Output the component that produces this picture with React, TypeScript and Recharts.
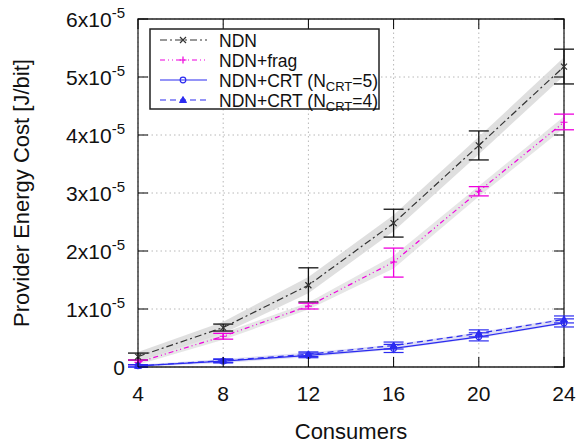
import { Area, ComposedChart, CartesianGrid, ErrorBar, Label, Line, ReferenceArea, XAxis, YAxis } from "recharts";

// values in units of 1e-5 J/bit
const consumers = [4, 8, 12, 16, 20, 24];
const xTicks = [4, 8, 12, 16, 20, 24];
const yTicks = [0, 1, 2, 3, 4, 5, 6];

const ndn = [0.18, 0.68, 1.41, 2.48, 3.82, 5.18];
const ndnLow = [0.12, 0.62, 1.12, 2.24, 3.57, 4.88];
const ndnHigh = [0.24, 0.74, 1.71, 2.72, 4.07, 5.48];
const ndnBandLow = [0.1, 0.58, 1.27, 2.34, 3.67, 5.02];
const ndnBandHigh = [0.26, 0.78, 1.55, 2.62, 3.97, 5.34];

const frag = [0.08, 0.53, 1.05, 1.81, 3.03, 4.22];
const fragLow = [0.04, 0.48, 1.0, 1.55, 2.95, 4.09];
const fragHigh = [0.12, 0.58, 1.1, 2.05, 3.11, 4.36];
const fragBandLow = [0.04, 0.47, 0.99, 1.7, 2.94, 4.12];
const fragBandHigh = [0.12, 0.59, 1.11, 1.92, 3.12, 4.32];

const crt5 = [0.02, 0.1, 0.2, 0.32, 0.52, 0.76];
const crt5Low = [0.0, 0.07, 0.16, 0.25, 0.45, 0.69];
const crt5High = [0.04, 0.13, 0.24, 0.39, 0.59, 0.83];
const crt4 = [0.02, 0.11, 0.22, 0.37, 0.58, 0.82];
const crt4Low = [0.0, 0.08, 0.18, 0.31, 0.52, 0.76];
const crt4High = [0.04, 0.14, 0.26, 0.43, 0.64, 0.88];
const crtBandLow = [0.0, 0.07, 0.17, 0.3, 0.5, 0.74];
const crtBandHigh = [0.04, 0.14, 0.25, 0.39, 0.6, 0.84];

const data = consumers.map((c, i) => ({
  c,
  ndn: ndn[i],
  ndnErr: [ndn[i] - ndnLow[i], ndnHigh[i] - ndn[i]],
  ndnBand: [ndnBandLow[i], ndnBandHigh[i]],
  frag: frag[i],
  fragErr: [frag[i] - fragLow[i], fragHigh[i] - frag[i]],
  fragBand: [fragBandLow[i], fragBandHigh[i]],
  crt5: crt5[i],
  crt5Err: [crt5[i] - crt5Low[i], crt5High[i] - crt5[i]],
  crt4: crt4[i],
  crt4Err: [crt4[i] - crt4Low[i], crt4High[i] - crt4[i]],
  crtBand: [crtBandLow[i], crtBandHigh[i]],
}));

const FONT = "'Liberation Sans', Arial, sans-serif";
const LEFT = 138, RIGHT = 564, TOP = 19, BOTTOM = 367;
const NDN_C = "#333333", FRAG_C = "#ee00dd", CRT_C = "#2b2bf0";

const XMark = ({ cx, cy, color }: any) => (
  <path d={`M${cx - 3},${cy - 3}L${cx + 3},${cy + 3}M${cx - 3},${cy + 3}L${cx + 3},${cy - 3}`} stroke={color} strokeWidth={1.2} />
);
const PlusMark = ({ cx, cy, color }: any) => (
  <path d={`M${cx - 3.5},${cy}L${cx + 3.5},${cy}M${cx},${cy - 3.5}L${cx},${cy + 3.5}`} stroke={color} strokeWidth={1.2} />
);
const CircleMark = ({ cx, cy, color }: any) => <circle cx={cx} cy={cy} r={2.8} fill="none" stroke={color} strokeWidth={1.2} />;
const TriMark = ({ cx, cy, color }: any) => (
  <path d={`M${cx},${cy - 3.5}L${cx + 3.5},${cy + 2.5}L${cx - 3.5},${cy + 2.5}Z`} fill={color} stroke={color} strokeWidth={1} />
);

function XTick({ x, payload }: any) {
  return (
    <g>
      <line x1={x} x2={x} y1={BOTTOM} y2={BOTTOM - 10} stroke="#000" />
      <line x1={x} x2={x} y1={TOP} y2={TOP + 10} stroke="#000" />
      <text x={x} y={401} textAnchor="middle" fontSize={21} fontFamily={FONT} fill="#111">{payload.value}</text>
    </g>
  );
}

function YTick({ y, payload }: any) {
  const v = payload.value;
  return (
    <g>
      <line x1={LEFT} x2={LEFT + 10} y1={y} y2={y} stroke="#000" />
      <line x1={RIGHT} x2={RIGHT - 10} y1={y} y2={y} stroke="#000" />
      <text x={125} y={y + 7.5} textAnchor="end" fontSize={21} fontFamily={FONT} fill="#111">
        {v === 0 ? "0" : (
          <>
            {`${v}x10`}
            <tspan fontSize={15} dy={-9}>-5</tspan>
          </>
        )}
      </text>
    </g>
  );
}

const legendItems = [
  { label: "NDN", color: NDN_C, dash: "7 3 2 3", Mark: XMark },
  { label: "NDN+frag", color: FRAG_C, dash: "5 3 1 3 1 3", Mark: PlusMark },
  { label: "crt5", color: CRT_C, dash: undefined, Mark: CircleMark },
  { label: "crt4", color: CRT_C, dash: "6 4", Mark: TriMark },
];

function LegendBox() {
  return (
    <g>
      <rect x={150} y={29} width={229} height={80} fill="#fff" stroke="#222" strokeWidth={1.5} />
      {legendItems.map((it, i) => {
        const y = 40 + i * 20;
        return (
          <g key={it.label}>
            <line x1={160} x2={207} y1={y} y2={y} stroke={it.color} strokeDasharray={it.dash} strokeWidth={1.2} />
            <it.Mark cx={183} cy={y} color={it.color} />
            <text x={219} y={y + 6.5} fontSize={17.5} fontFamily={FONT} fill="#111">
              {it.label === "crt5" || it.label === "crt4" ? (
                <>
                  {"NDN+CRT (N"}
                  <tspan fontSize={13} dy={4}>CRT</tspan>
                  <tspan dy={-4}>{it.label === "crt5" ? "=5)" : "=4)"}</tspan>
                </>
              ) : it.label}
            </text>
          </g>
        );
      })}
    </g>
  );
}

export default function App() {
  return (
    <div style={{ position: "absolute", left: 0, top: 0, width: 582, height: 446, background: "#fff" }}>
      <ComposedChart width={582} height={446} data={data} margin={{ top: TOP, right: 582 - RIGHT, bottom: 0, left: 0 }}>
        <CartesianGrid stroke="#b8b8b8" strokeDasharray="1.5 3" verticalValues={xTicks} horizontalValues={yTicks} />
        <XAxis dataKey="c" type="number" domain={[4, 24]} ticks={xTicks} height={446 - BOTTOM} axisLine={false} tickLine={false} tick={<XTick />} interval={0}>
          <Label content={() => <text x={351} y={439} textAnchor="middle" fontSize={22} fontFamily={FONT} fill="#111">Consumers</text>} />
        </XAxis>
        <YAxis type="number" domain={[0, 6]} ticks={yTicks} width={LEFT} axisLine={false} tickLine={false} tick={<YTick />} interval={0}>
          <Label content={() => (
            <text x={29} y={193} textAnchor="middle" fontSize={22} fontFamily={FONT} fill="#111" transform="rotate(-90 29 193)">Provider Energy Cost [J/bit]</text>
          )} />
        </YAxis>
        <Area dataKey="ndnBand" type="linear" fill="#d4d4d4" fillOpacity={0.75} stroke="none" isAnimationActive={false} />
        <Area dataKey="fragBand" type="linear" fill="#dcdcdc" fillOpacity={0.7} stroke="none" isAnimationActive={false} />
        <Area dataKey="crtBand" type="linear" fill="#c8c8ee" fillOpacity={0.6} stroke="none" isAnimationActive={false} />
        <Line dataKey="ndn" type="linear" stroke={NDN_C} strokeWidth={1.2} strokeDasharray="7 3 2 3" isAnimationActive={false}
          dot={(p: any) => <XMark key={p.index} cx={p.cx} cy={p.cy} color={NDN_C} />}>
          <ErrorBar dataKey="ndnErr" direction="y" width={10} stroke="#111" strokeWidth={1.3} />
        </Line>
        <Line dataKey="frag" type="linear" stroke={FRAG_C} strokeWidth={1.2} strokeDasharray="5 3 1 3 1 3" isAnimationActive={false}
          dot={(p: any) => <PlusMark key={p.index} cx={p.cx} cy={p.cy} color={FRAG_C} />}>
          <ErrorBar dataKey="fragErr" direction="y" width={10} stroke={FRAG_C} strokeWidth={1.3} />
        </Line>
        <Line dataKey="crt5" type="linear" stroke={CRT_C} strokeWidth={1.2} isAnimationActive={false}
          dot={(p: any) => <CircleMark key={p.index} cx={p.cx} cy={p.cy} color={CRT_C} />}>
          <ErrorBar dataKey="crt5Err" direction="y" width={10} stroke={CRT_C} strokeWidth={1.2} />
        </Line>
        <Line dataKey="crt4" type="linear" stroke={CRT_C} strokeWidth={1.2} strokeDasharray="6 4" isAnimationActive={false}
          dot={(p: any) => <TriMark key={p.index} cx={p.cx} cy={p.cy} color={CRT_C} />}>
          <ErrorBar dataKey="crt4Err" direction="y" width={10} stroke={CRT_C} strokeWidth={1.2} />
        </Line>
        <ReferenceArea x1={4} x2={24} y1={0} y2={6} fill="none" stroke="#222" strokeWidth={1.3} ifOverflow="visible" />
      </ComposedChart>
      <svg width={582} height={446} style={{ position: "absolute", left: 0, top: 0, pointerEvents: "none" }}>
        <LegendBox />
      </svg>
    </div>
  );
}
